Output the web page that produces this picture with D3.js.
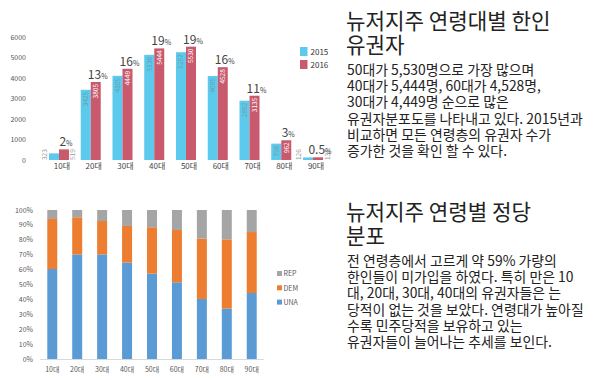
<!DOCTYPE html>
<html><head><meta charset="utf-8">
<script src="https://cdn.jsdelivr.net/npm/d3@7"></script>
<style>
html,body{margin:0;padding:0;background:#fff;}
svg{display:block;}
</style></head>
<body>
<svg id="c" width="600" height="380"></svg>
<script>
const ages = ["10대","20대","30대","40대","50대","60대","70대","80대","90대"];
const years = ["2015","2016"];
const voters2015 = [323,3425,4105,5130,5257,4095,2892,798,126];
const voters2016 = [519,3805,4449,5444,5530,4528,3135,962,132];
const share2016 = ["2","13","16","19","19","16","11","3","0.5"];
const countTicks = [0,1000,2000,3000,4000,5000,6000];

const partyKeys = ["UNA","DEM","REP"];
const una = [60.4,70.2,70.2,64.7,57.3,51.5,40.3,33.8,44.3];
const dem = [33.6,24.9,22.4,24.6,31.1,35.1,40.5,46.5,40.9];
const rep = una.map((u,i)=>+(100-u-dem[i]).toFixed(1));
const pctTicks = [0,10,20,30,40,50,60,70,80,90,100];

const title1 = ["뉴저지주 연령대별 한인","유권자"];
const body1 = ["50대가 5,530명으로 가장 많으며","40대가 5,444명, 60대가 4,528명,","30대가 4,449명 순으로 많은","유권자분포도를 나타내고 있다. 2015년과","비교하면 모든 연령층의 유권자 수가","증가한 것을 확인 할 수 있다."];
const title2 = ["뉴저지주 연령별 정당","분포"];
const body2 = ["전 연령층에서 고르게 약 59% 가량의","한인들이 미가입을 하였다. 특히 만은 10","대, 20대, 30대, 40대의 유권자들은 는","당적이 없는 것을 보았다. 연령대가 높아질","수록 민주당적을 보유하고 있는","유권자들이 늘어나는 추세를 보인다."];

const svg = d3.select("#c");
const FONT = "'Noto Sans CJK KR','Noto Sans',sans-serif";
const yearColor = {"2015":"#5ccaec","2016":"#c95a6e"};
const partyColor = {"UNA":"#5b9bd5","DEM":"#ed7d31","REP":"#a5a5a5"};

// ---------- Top chart ----------
const topG = svg.append("g");
const x0 = d3.scaleBand().domain(ages).range([43.1,328.9]).paddingInner(0.37).paddingOuter(0.185);
const x1 = d3.scaleBand().domain(years).range([0,x0.bandwidth()]);
const y = d3.scaleLinear().domain([0,6000]).range([160,37]);

topG.append("g").selectAll("text").data(countTicks).join("text")
  .attr("x",26).attr("y",d=>y(d)+2.5).attr("text-anchor","end")
  .attr("font-family",FONT).attr("font-size",7).attr("fill","#555").text(d=>d);

const rows = ages.map((a,i)=>({age:a, vals:[{year:"2015",v:voters2015[i]},{year:"2016",v:voters2016[i]}], share:share2016[i]}));
const grp = topG.append("g").selectAll("g").data(rows).join("g")
  .attr("transform",d=>`translate(${x0(d.age)},0)`);
grp.selectAll("rect").data(d=>d.vals).join("rect")
  .attr("x",d=>x1(d.year)).attr("width",x1.bandwidth())
  .attr("y",d=>y(d.v)).attr("height",d=>y(0)-y(d.v))
  .attr("fill",d=>yearColor[d.year]);
grp.selectAll("text.val").data(d=>d.vals).join("text").attr("class","val")
  .attr("font-family",FONT).attr("font-size",6.5)
  .each(function(d){
    const h = y(0)-y(d.v);
    const cx = x1(d.year)+x1.bandwidth()/2;
    const t = d3.select(this).text(d.v);
    if(h>12){
      t.attr("transform",`translate(${cx+2.3},${y(d.v)+2}) rotate(-90)`)
       .attr("text-anchor","end")
       .attr("fill",d.year==="2015"?"#6f9aab":"#ffffff");
    } else {
      const ox = d.year==="2015" ? x1(d.year)-2 : x1(d.year)+x1.bandwidth()+6.5;
      t.attr("transform",`translate(${ox},${y(0)}) rotate(-90)`)
       .attr("text-anchor","start").attr("fill","#9a9a9a");
    }
  });
const pl = grp.append("text")
  .attr("x",d=>x1("2016")+x1.bandwidth()/2+2)
  .attr("y",d=>y(d.vals[1].v)-3)
  .attr("text-anchor","middle").attr("font-family",FONT).attr("fill","#444");
pl.append("tspan").attr("font-size",12).text(d=>d.share);
pl.append("tspan").attr("font-size",7).text("%");

topG.append("g").selectAll("text").data(ages).join("text")
  .attr("x",d=>x0(d)+x0.bandwidth()/2+3).attr("y",169)
  .attr("text-anchor","middle").attr("font-family",FONT).attr("font-size",8).attr("fill","#444").text(d=>d);

const lg1 = topG.append("g").selectAll("g").data(years).join("g")
  .attr("transform",(d,i)=>`translate(300,${47+i*13})`);
lg1.append("rect").attr("width",7.5).attr("height",9).attr("fill",d=>yearColor[d]);
lg1.append("text").attr("x",10.5).attr("y",7.5).attr("font-family",FONT).attr("font-size",8).attr("fill","#333").text(d=>d);

// ---------- Bottom chart ----------
const botG = svg.append("g");
const bx = d3.scaleBand().domain(ages).range([39.8,264.2]).paddingInner(0.6).paddingOuter(0.3);
const by = d3.scaleLinear().domain([0,100]).range([359,210]);
botG.append("g").selectAll("text").data(pctTicks).join("text")
  .attr("x",33).attr("y",d=>by(d)+2.5).attr("text-anchor","end")
  .attr("font-family",FONT).attr("font-size",7).attr("fill","#595959").text(d=>d+"%");
botG.append("line").attr("x1",40).attr("x2",264).attr("y1",by(0)+0.5).attr("y2",by(0)+0.5)
  .attr("stroke","#d9d9d9").attr("stroke-width",1);
const partyRows = ages.map((a,i)=>({age:a, UNA:una[i], DEM:dem[i], REP:rep[i]}));
const stacked = d3.stack().keys(partyKeys)(partyRows);
botG.append("g").selectAll("g").data(stacked).join("g").attr("fill",d=>partyColor[d.key])
  .selectAll("rect").data(d=>d).join("rect")
  .attr("x",d=>bx(d.data.age)).attr("width",bx.bandwidth())
  .attr("y",d=>by(d[1])).attr("height",d=>by(d[0])-by(d[1]));
botG.append("g").selectAll("text").data(ages).join("text")
  .attr("x",d=>bx(d)+bx.bandwidth()/2).attr("y",371.5)
  .attr("text-anchor","middle").attr("font-family",FONT).attr("font-size",7).attr("fill","#595959").text(d=>d);
const lg2 = botG.append("g").selectAll("g").data(["REP","DEM","UNA"]).join("g")
  .attr("transform",(d,i)=>`translate(277,${271+i*14.3})`);
lg2.append("rect").attr("width",5).attr("height",5).attr("fill",d=>partyColor[d]);
lg2.append("text").attr("x",6.5).attr("y",5.2).attr("font-family",FONT).attr("font-size",7).attr("fill","#595959").text(d=>d);

// ---------- Text blocks (one text element per block) ----------
function block(titleLines, bodyLines, ty, by0){
  const lines = titleLines.map((t,i)=>({t, y:ty+i*24.5, fs:21.2, x:346}))
    .concat(bodyLines.map((t,i)=>({t, y:by0+i*16.2, fs:13.9, x:347})));
  svg.append("text").attr("font-family",FONT).attr("fill","#222")
    .selectAll("tspan").data(lines).join("tspan")
    .attr("x",d=>d.x).attr("y",d=>d.y).attr("font-size",d=>d.fs).text(d=>d.t);
}
block(title1, body1, 28.5, 75);
block(title2, body2, 219.5, 266);
</script>
</body></html>
